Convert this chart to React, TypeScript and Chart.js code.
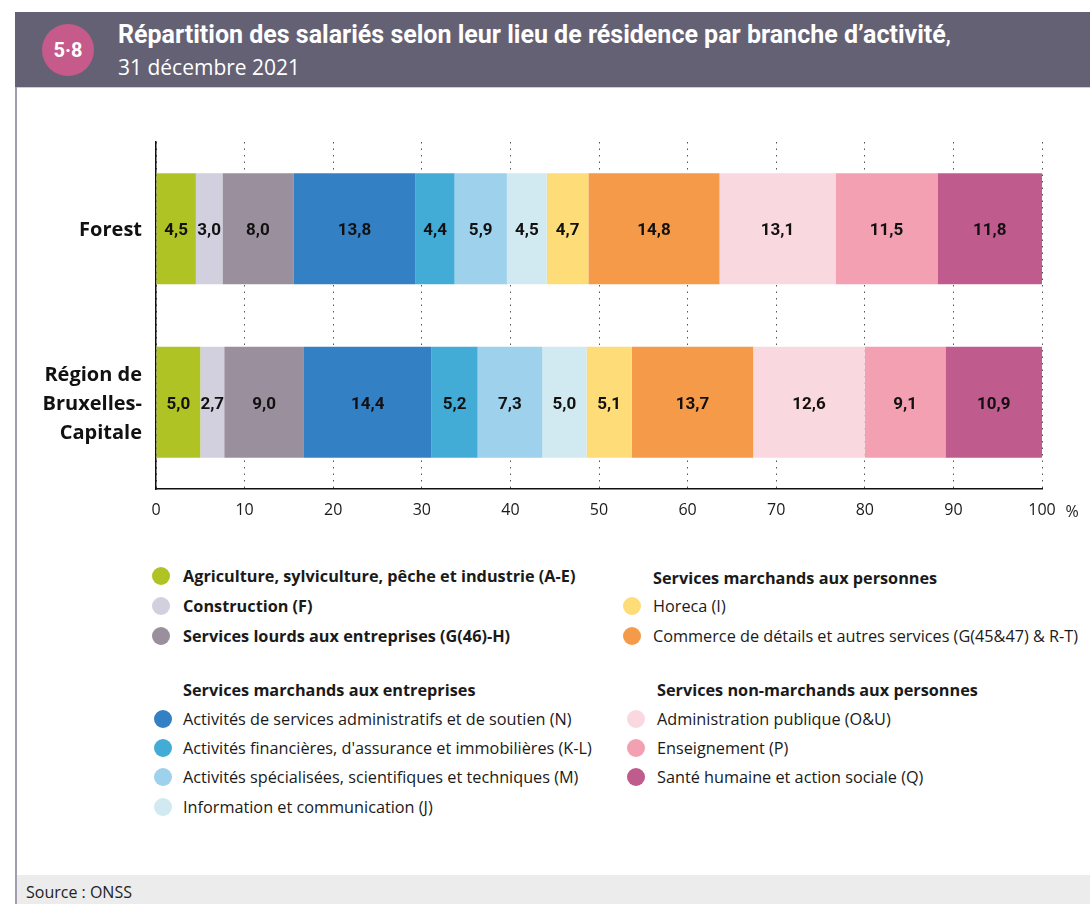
import React, { useEffect, useRef } from 'react';
import { Chart, registerables } from 'chart.js';

Chart.register(...registerables);

// ---------- DATA ----------
const categories: (string | string[])[] = ['Forest', ['Région de', 'Bruxelles-', 'Capitale']];

const sectorNames = [
  'Agriculture, sylviculture, pêche et industrie (A-E)',
  'Construction (F)',
  'Services lourds aux entreprises (G(46)-H)',
  'Activités de services administratifs et de soutien (N)',
  "Activités financières, d'assurance et immobilières (K-L)",
  'Activités spécialisées, scientifiques et techniques (M)',
  'Information et communication (J)',
  'Horeca (I)',
  'Commerce de détails et autres services (G(45&47) & R-T)',
  'Administration publique (O&U)',
  'Enseignement (P)',
  'Santé humaine et action sociale (Q)',
];

const sectorColors = [
  '#afc424', '#d2d0de', '#9a8f9c', '#3480c4', '#42acd6', '#9dd1ec',
  '#d1e9f1', '#fedc78', '#f49a48', '#fad8e0', '#f2a0b2', '#bf5b8d',
];

const forestValues = [4.5, 3.0, 8.0, 13.8, 4.4, 5.9, 4.5, 4.7, 14.8, 13.1, 11.5, 11.8];
const bruxellesValues = [5.0, 2.7, 9.0, 14.4, 5.2, 7.3, 5.0, 5.1, 13.7, 12.6, 9.1, 10.9];

const xTickValues = [0, 10, 20, 30, 40, 50, 60, 70, 80, 90, 100];

const legendGroupHeaders = [
  'Services marchands aux entreprises',
  'Services marchands aux personnes',
  'Services non-marchands aux personnes',
];

const LABEL_FONT = 'bold 17px "Liberation Sans Narrow", Roboto, sans-serif';

// ---------- PLUGINS ----------
const valueLabels = {
  id: 'valueLabels',
  afterDatasetsDraw(chart: any) {
    const ctx = chart.ctx;
    ctx.save();
    ctx.font = LABEL_FONT;
    ctx.fillStyle = '#111';
    ctx.textAlign = 'center';
    ctx.textBaseline = 'middle';
    chart.data.datasets.forEach((ds: any, i: number) => {
      const meta = chart.getDatasetMeta(i);
      meta.data.forEach((el: any, j: number) => {
        const v = ds.data[j] as number;
        const x = (el.x + el.base) / 2;
        ctx.fillText(v.toFixed(1).replace('.', ','), x, el.y + 2);
      });
    });
    ctx.restore();
  },
};

const percentSign = {
  id: 'percentSign',
  afterDraw(chart: any) {
    const ctx = chart.ctx;
    const xs = chart.scales.x;
    ctx.save();
    ctx.font = '16px "Open Sans", sans-serif';
    ctx.fillStyle = '#222';
    ctx.textAlign = 'center';
    ctx.textBaseline = 'middle';
    ctx.fillText('%', xs.right + 30, xs.top + 23);
    ctx.restore();
  },
};

function ChartCanvas() {
  const ref = useRef<HTMLCanvasElement>(null);
  useEffect(() => {
    if (!ref.current) return;
    const chart = new Chart(ref.current, {
      type: 'bar',
      data: {
        labels: categories as any,
        datasets: sectorNames.map((name, i) => ({
          label: name,
          data: [forestValues[i], bruxellesValues[i]],
          backgroundColor: sectorColors[i],
          borderWidth: 0,
          barPercentage: 0.8,
          categoryPercentage: 0.8,
        })),
      },
      options: {
        indexAxis: 'y',
        animation: false,
        responsive: false,
        maintainAspectRatio: false,
        layout: { padding: { top: 42, right: 48, left: 0, bottom: 0 } },
        plugins: { legend: { display: false }, tooltip: { enabled: false } },
        scales: {
          x: {
            stacked: true,
            min: 0,
            max: 100,
            afterBuildTicks: (scale: any) => {
              scale.ticks = xTickValues.map((v) => ({ value: v }));
            },
            afterFit: (scale: any) => {
              scale.height = 51;
              scale.paddingLeft = 0;
              scale.paddingRight = 0;
            },
            ticks: {
              color: '#1a1a1a',
              font: { family: '"Open Sans"', size: 16 },
              padding: 12,
              maxRotation: 0,
            },
            grid: { color: '#555', lineWidth: 1, drawTicks: false },
            border: { display: true, color: '#111', width: 1.5, dash: [1.5, 5] },
          },
          y: {
            stacked: true,
            afterFit: (scale: any) => {
              scale.width = 156;
              scale.paddingTop = 0;
              scale.paddingBottom = 0;
            },
            ticks: {
              color: '#111',
              font: { family: '"Open Sans"', size: 20, weight: 'bold', lineHeight: 1.47 },
              padding: 14,
              labelOffset: 2,
            },
            grid: { display: false, drawTicks: false },
            border: { display: true, color: '#111', width: 1.5 },
          },
        },
      } as any,
      plugins: [valueLabels, percentSign],
    });
    let alive = true;
    if ((document as any).fonts && (document as any).fonts.load) {
      Promise.all([
        (document as any).fonts.load(LABEL_FONT, '0123456789,'),
        (document as any).fonts.load('bold 20px "Open Sans"', 'Forest'),
        (document as any).fonts.load('16px "Open Sans"', '0123456789%'),
      ])
        .then(() => {
          if (alive) chart.update();
        })
        .catch(() => {});
    }
    return () => {
      alive = false;
      chart.destroy();
    };
  }, []);
  return <canvas ref={ref} width={1090} height={440} style={{ position: 'absolute', left: 0, top: 100, width: 1090, height: 440 }} />;
}

const legendFont = '"Open Sans", sans-serif';

function LegendItem({ cx, cy, tx, color, text, bold }: { cx: number; cy: number; tx: number; color?: string; text: string; bold?: boolean }) {
  return (
    <>
      {color && (
        <div style={{ position: 'absolute', left: cx - 9, top: cy - 9, width: 18, height: 18, borderRadius: '50%', background: color }} />
      )}
      <div
        style={{
          position: 'absolute',
          left: tx,
          top: cy - 12,
          height: 24,
          lineHeight: '24px',
          fontFamily: legendFont,
          fontSize: 16.25,
          fontWeight: bold ? 700 : 400,
          color: '#1a1a1a',
          whiteSpace: 'nowrap',
        }}
      >
        {text}
      </div>
    </>
  );
}

export default function App() {
  useEffect(() => {
    document.body.style.margin = '0';
  }, []);
  const leftRows1 = [576, 606, 636];
  const leftRows2 = [719, 748, 777, 807];
  const rightRows2 = [719, 748, 777];
  return (
    <div style={{ position: 'relative', width: 1090, height: 904, overflow: 'hidden', background: '#fff' }}>
      {/* header */}
      <div style={{ position: 'absolute', left: 15, top: 12, width: 1075, height: 75, background: '#656175' }} />
      <div style={{ position: 'absolute', left: 15, top: 87, width: 1075, height: 1, background: '#cfcdd6' }} />
      <div style={{ position: 'absolute', left: 15, top: 87, width: 2, height: 817, background: '#a29eae' }} />
      <div
        style={{
          position: 'absolute', left: 42, top: 24, width: 52, height: 52, borderRadius: '50%', background: '#c65a8b',
          color: '#fff', fontFamily: 'Roboto, sans-serif', fontWeight: 700, fontSize: 20, lineHeight: '52px', textAlign: 'center',
        }}
      >
        5·8
      </div>
      <div
        style={{
          position: 'absolute', left: 118, top: 19, color: '#fff', fontFamily: '"Liberation Sans Narrow", Roboto, sans-serif',
          fontWeight: 700, fontSize: 25, lineHeight: '32px', whiteSpace: 'nowrap',
        }}
      >
        Répartition des salariés selon leur lieu de résidence par branche d’activité<span style={{ fontWeight: 400 }}>,</span>
      </div>
      <div
        style={{
          position: 'absolute', left: 118, top: 52, color: '#fff', fontFamily: '"Open Sans", sans-serif',
          fontWeight: 400, fontSize: 21, lineHeight: '30px', whiteSpace: 'nowrap',
        }}
      >
        31 décembre 2021
      </div>

      <ChartCanvas />

      {/* legend left column */}
      {leftRows1.map((cy, k) => (
        <LegendItem key={'l1' + k} cx={161} cy={cy} tx={183} color={sectorColors[k]} text={sectorNames[k]} bold />
      ))}
      <LegendItem cx={0} cy={690} tx={183} text={legendGroupHeaders[0]} bold />
      {leftRows2.map((cy, k) => (
        <LegendItem key={'l2' + k} cx={163} cy={cy} tx={183} color={sectorColors[3 + k]} text={sectorNames[3 + k]} />
      ))}
      {/* legend right column */}
      <LegendItem cx={0} cy={578} tx={653} text={legendGroupHeaders[1]} bold />
      {[606, 636].map((cy, k) => (
        <LegendItem key={'r1' + k} cx={632} cy={cy} tx={653} color={sectorColors[7 + k]} text={sectorNames[7 + k]} />
      ))}
      <LegendItem cx={0} cy={690} tx={657} text={legendGroupHeaders[2]} bold />
      {rightRows2.map((cy, k) => (
        <LegendItem key={'r2' + k} cx={636} cy={cy} tx={657} color={sectorColors[9 + k]} text={sectorNames[9 + k]} />
      ))}

      {/* source */}
      <div style={{ position: 'absolute', left: 17, top: 875, width: 1073, height: 29, background: '#ececec' }} />
      <div
        style={{
          position: 'absolute', left: 26, top: 880, fontFamily: '"Open Sans", sans-serif', fontSize: 16, lineHeight: '24px', color: '#222',
        }}
      >
        Source : ONSS
      </div>
    </div>
  );
}
